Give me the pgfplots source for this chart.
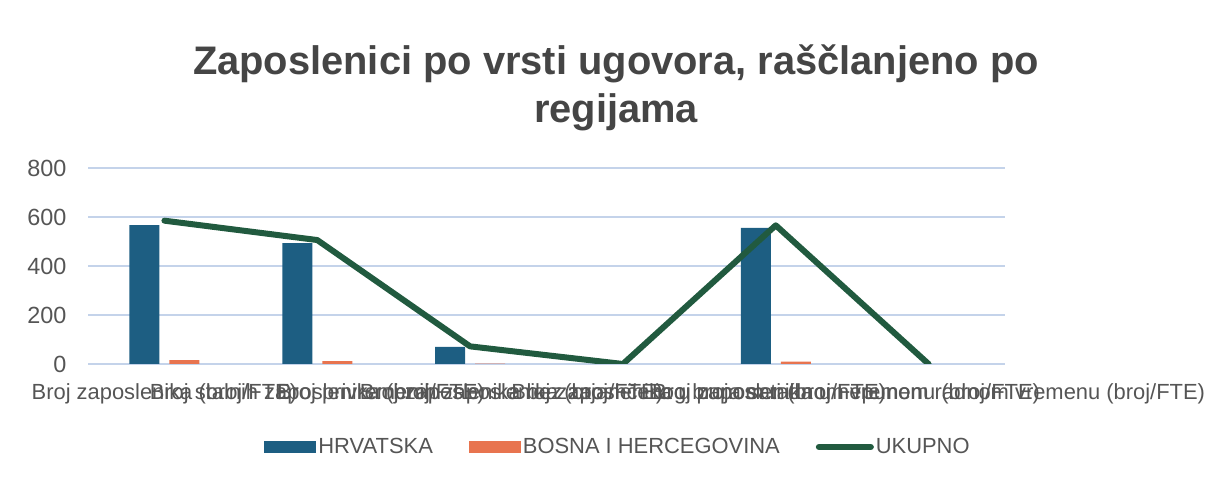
\documentclass[border=0pt]{standalone}
\usepackage{pgfplots}
\pgfplotsset{compat=1.18}
\usepackage{fontspec}
\setmainfont{Liberation Sans}
\definecolor{hrv}{HTML}{1D5E82}
\definecolor{bih}{HTML}{E8744F}
\definecolor{uk}{HTML}{215A3F}
\definecolor{txt}{HTML}{555555}
\definecolor{ttl}{HTML}{454545}
\definecolor{grd}{HTML}{C4D3EA}
\begin{document}
\begin{tikzpicture}
\useasboundingbox (0,0) rectangle (1214bp,484bp);
\node[font=\fontsize{40}{48}\selectfont\bfseries, text=ttl, anchor=base] at (616bp,409bp) {Zaposlenici po vrsti ugovora, raščlanjeno po};
\node[font=\fontsize{40}{48}\selectfont\bfseries, text=ttl, anchor=base] at (616bp,361bp) {regijama};
\begin{axis}[
  at={(88bp,120bp)}, anchor=south west,
  scale only axis, width=917bp, height=196bp,
  xmin=-0.5, xmax=5.5, ymin=0, ymax=800,
  ytick={0,200,400,600,800},
  xtick={0,1,2,3,4,5},
  xticklabels={Broj zaposlenika (broj/FTE),Broj stalnih zaposlenika (broj/FTE),Broj privremenih zaposlenika (broj/FTE),Broj zaposlenika bez zajamčenog broja sati (broj/FTE),Broj zaposlenika u punom radnom vremenu (broj/FTE),Broj zaposlenika u nepunom radnom vremenu (broj/FTE)},
  axis line style={draw=none},
  major tick style={draw=none},
  ymajorgrids, grid style={grd, line width=1.2bp},
  /pgf/number format/assume math mode=true,
  tick label style={font=\fontsize{22}{26}\selectfont, text=txt},
  yticklabel style={font=\fontsize{23.5}{28}\selectfont, xshift=-18bp},
  xticklabel style={anchor=north, yshift=-16bp},
  legend style={at={(0.578,-0.4235)}, anchor=center, draw=none, fill=none,
    font=\fontsize{22}{26}\selectfont, text=txt, legend columns=3,
    /tikz/every odd column/.append style={column sep=0bp},
    /tikz/every even column/.append style={column sep=34bp}},
]
\addplot[ybar, bar width=30bp, bar shift=-20bp, fill=hrv, draw=none,
  legend image code/.code={\fill[hrv] (0bp,-6bp) rectangle (52bp,6bp);}]
  coordinates {(0,567) (1,493) (2,70) (3,0) (4,556) (5,0)};
\addlegendentry{HRVATSKA}
\addplot[ybar, bar width=30bp, bar shift=20bp, fill=bih, draw=none,
  legend image code/.code={\fill[bih] (0bp,-6bp) rectangle (52bp,6bp);}]
  coordinates {(0,16) (1,12) (2,2) (3,0) (4,10) (5,0)};
\addlegendentry{BOSNA I HERCEGOVINA}
\addplot[uk, line width=6bp, line join=round, line cap=round, mark=none,
  legend image code/.code={\draw[uk, line width=6bp, line cap=round] (3bp,0bp) -- (55bp,0bp);}]
  coordinates {(0,585) (1,506) (2,72) (3,0) (4,566) (5,0)};
\addlegendentry{UKUPNO}
\end{axis}
\end{tikzpicture}
\end{document}
